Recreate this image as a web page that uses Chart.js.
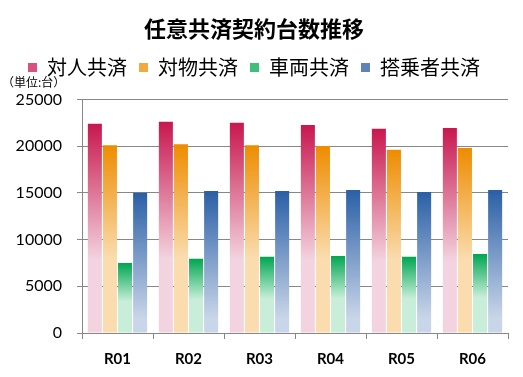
<!DOCTYPE html>
<html>
<head>
<meta charset="utf-8">
<script src="https://cdn.jsdelivr.net/npm/chart.js@4.4.0/dist/chart.umd.min.js"></script>
<style>
  html, body { margin: 0; padding: 0; background: #fff; }
  #wrap { width: 523px; height: 377px; }
</style>
</head>
<body>
<div id="wrap"><canvas id="myChart" width="523" height="377"></canvas></div>
<script>
// 年度ごとの契約台数
var labels = ['R01', 'R02', 'R03', 'R04', 'R05', 'R06'];
var taijin = [22400, 22600, 22500, 22250, 21850, 21950];
var taibutsu = [20100, 20200, 20100, 20000, 19600, 19800];
var sharyo = [7500, 7950, 8150, 8250, 8150, 8450];
var tojosha = [15000, 15200, 15200, 15300, 15100, 15300];
var yTicks = [0, 5000, 10000, 15000, 20000, 25000];

var JP = '"Noto Sans CJK JP", sans-serif';
var NUM = 'Lato, "Noto Sans", sans-serif';

// 棒ごとに上が濃く下が淡いグラデーション
function grad(dark, light, stop) {
    return function (c) {
        var chart = c.chart;
        if (!chart.chartArea || c.type !== 'data') return dark;
        var y = chart.scales.y;
        var top = y.getPixelForValue(c.raw);
        var bot = y.getPixelForValue(0);
        var g = chart.ctx.createLinearGradient(0, top, 0, bot);
        g.addColorStop(0, dark);
        g.addColorStop(stop, light);
        g.addColorStop(1, light);
        return g;
    };
}

var legendColors = ['#d9527f', '#f2a93e', '#3fbf7a', '#5f82b8'];

// 凡例の下に余白を足して、単位表示を描く
var unitLabel = {
    id: 'unitLabel',
    beforeInit: function (chart) {
        var lg = chart.legend;
        if (!lg) return;
        var fit = lg.fit;
        lg.fit = function () {
            fit.call(this);
            this.height += 12;
        };
    },
    afterDraw: function (chart) {
        var ctx = chart.ctx;
        ctx.save();
        ctx.font = '12px ' + JP;
        ctx.fillStyle = '#000';
        ctx.textBaseline = 'middle';
        ctx.fillText('（単位:台）', 2, 82);
        ctx.restore();
    }
};

var ctx = document.getElementById('myChart').getContext('2d');
var chart = new Chart(ctx, {
    type: 'bar',
    data: {
        labels: labels,
        datasets: [
            { label: '対人共済', data: taijin, backgroundColor: grad('#c8174f', '#f3d3df', 0.65) },
            { label: '対物共済', data: taibutsu, backgroundColor: grad('#ee8c00', '#fadcae', 0.6) },
            { label: '車両共済', data: sharyo, backgroundColor: grad('#00a651', '#c8eed9', 0.55) },
            { label: '搭乗者共済', data: tojosha, backgroundColor: grad('#2a5fa6', '#c9d6e9', 0.9) }
        ]
    },
    options: {
        responsive: false,
        animation: false,
        layout: { padding: { left: 0, right: 15, top: 0, bottom: -2 } },
        datasets: {
            bar: { categoryPercentage: 0.85, barPercentage: 0.93 }
        },
        plugins: {
            title: {
                display: true,
                text: '任意共済契約台数推移',
                color: '#000',
                font: { family: JP, size: 22, weight: 'bold' },
                padding: { top: 15, bottom: 4 }
            },
            legend: {
                display: true,
                labels: {
                    color: '#000',
                    font: { family: JP, size: 20 },
                    boxWidth: 9,
                    boxHeight: 9,
                    padding: 12,
                    generateLabels: function (chart) {
                        return chart.data.datasets.map(function (ds, i) {
                            return {
                                text: ds.label,
                                fillStyle: legendColors[i],
                                strokeStyle: legendColors[i],
                                lineWidth: 0,
                                datasetIndex: i,
                                fontColor: '#000'
                            };
                        });
                    }
                }
            },
            tooltip: { enabled: false }
        },
        scales: {
            x: {
                grid: {
                    offset: true,
                    drawOnChartArea: false,
                    drawTicks: true,
                    tickLength: 6,
                    color: '#878787'
                },
                border: { display: true, color: '#878787', width: 1 },
                ticks: {
                    color: '#000',
                    font: { family: NUM, size: 15, weight: 'bold' },
                    padding: 11
                }
            },
            y: {
                min: 0,
                max: 25000,
                afterFit: function (s) { s.width = 82; },
                afterBuildTicks: function (s) {
                    s.ticks = yTicks.map(function (v) { return { value: v }; });
                },
                grid: {
                    color: '#878787',
                    tickLength: 5
                },
                border: { display: true, color: '#878787', width: 1 },
                ticks: {
                    color: '#000',
                    font: { family: NUM, size: 16 },
                    padding: 15,
                    callback: function (v) { return String(v); }
                }
            }
        }
    },
    plugins: [unitLabel]
});
</script>
</body>
</html>
